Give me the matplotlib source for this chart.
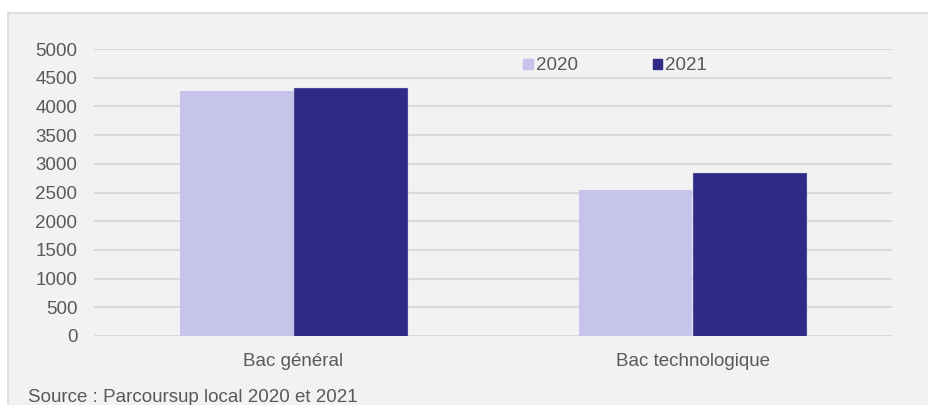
import numpy as np
import matplotlib
matplotlib.use("Agg")
import matplotlib.pyplot as plt
from matplotlib.patches import Rectangle, Patch

# values
categories = ["Bac général", "Bac technologique"]
series_names = ["2020", "2021"]
values_2020 = [4275, 2540]
values_2021 = [4315, 2843]
y_ticks = [0, 500, 1000, 1500, 2000, 2500, 3000, 3500, 4000, 4500, 5000]
source_text = "Source : Parcoursup local 2020 et 2021"

col_2020 = "#c6c4eb"
col_2021 = "#2f2a85"
txt_col = "#595959"
grid_col = "#d9d9d9"
fs = 13.5

plt.rcParams["font.family"] = ["Liberation Sans", "DejaVu Sans"]
plt.rcParams["font.size"] = fs

W, H = 929, 405
fig = plt.figure(figsize=(W / 100, H / 100), dpi=100)
fig.patch.set_facecolor("white")

# grey panel behind the chart
fig.patches.append(Rectangle((8 / W, -0.1), 1.2, (H - 13) / H + 0.1,
                             transform=fig.transFigure, facecolor="#f2f2f2",
                             edgecolor=grid_col, lw=1.2, zorder=-5))

ax = fig.add_axes([94 / W, (H - 336) / H, (892 - 94) / W, (336 - 49) / H])
ax.set_facecolor("none")

x = np.arange(len(categories))
bw = 0.285
ax.bar(x - bw / 2, values_2020, bw, color=col_2020, zorder=3, label=series_names[0])
ax.bar(x + bw / 2, values_2021, bw, color=col_2021, edgecolor="#4a4796",
       linewidth=0.8, zorder=3, label=series_names[1])

ax.set_xlim(-0.5, 1.5)
ax.set_ylim(0, 5000)
ax.set_yticks(y_ticks)
ax.set_xticks(x)
ax.set_xticklabels(categories)
ax.yaxis.grid(True, color=grid_col, lw=1.5, zorder=0)
ax.set_axisbelow(True)
for s in ax.spines.values():
    s.set_visible(False)
ax.tick_params(axis="both", length=0, colors=txt_col, labelsize=fs)
ax.tick_params(axis="y", pad=12)
ax.tick_params(axis="x", pad=12)

handles = [Patch(color=col_2020), Patch(color=col_2021)]
ax.legend(handles, series_names, ncol=2, frameon=False, loc="center left",
          bbox_to_anchor=((514 - 94) / 798, (336 - 66) / 287),
          borderpad=0, handlelength=0.5, handleheight=0.5,
          handletextpad=0.15, columnspacing=4.0, labelcolor=txt_col,
          fontsize=fs)

fig.text(28 / W, 3 / H, source_text, color=txt_col, fontsize=fs, va="baseline")

fig.savefig("out.png", dpi=100)
